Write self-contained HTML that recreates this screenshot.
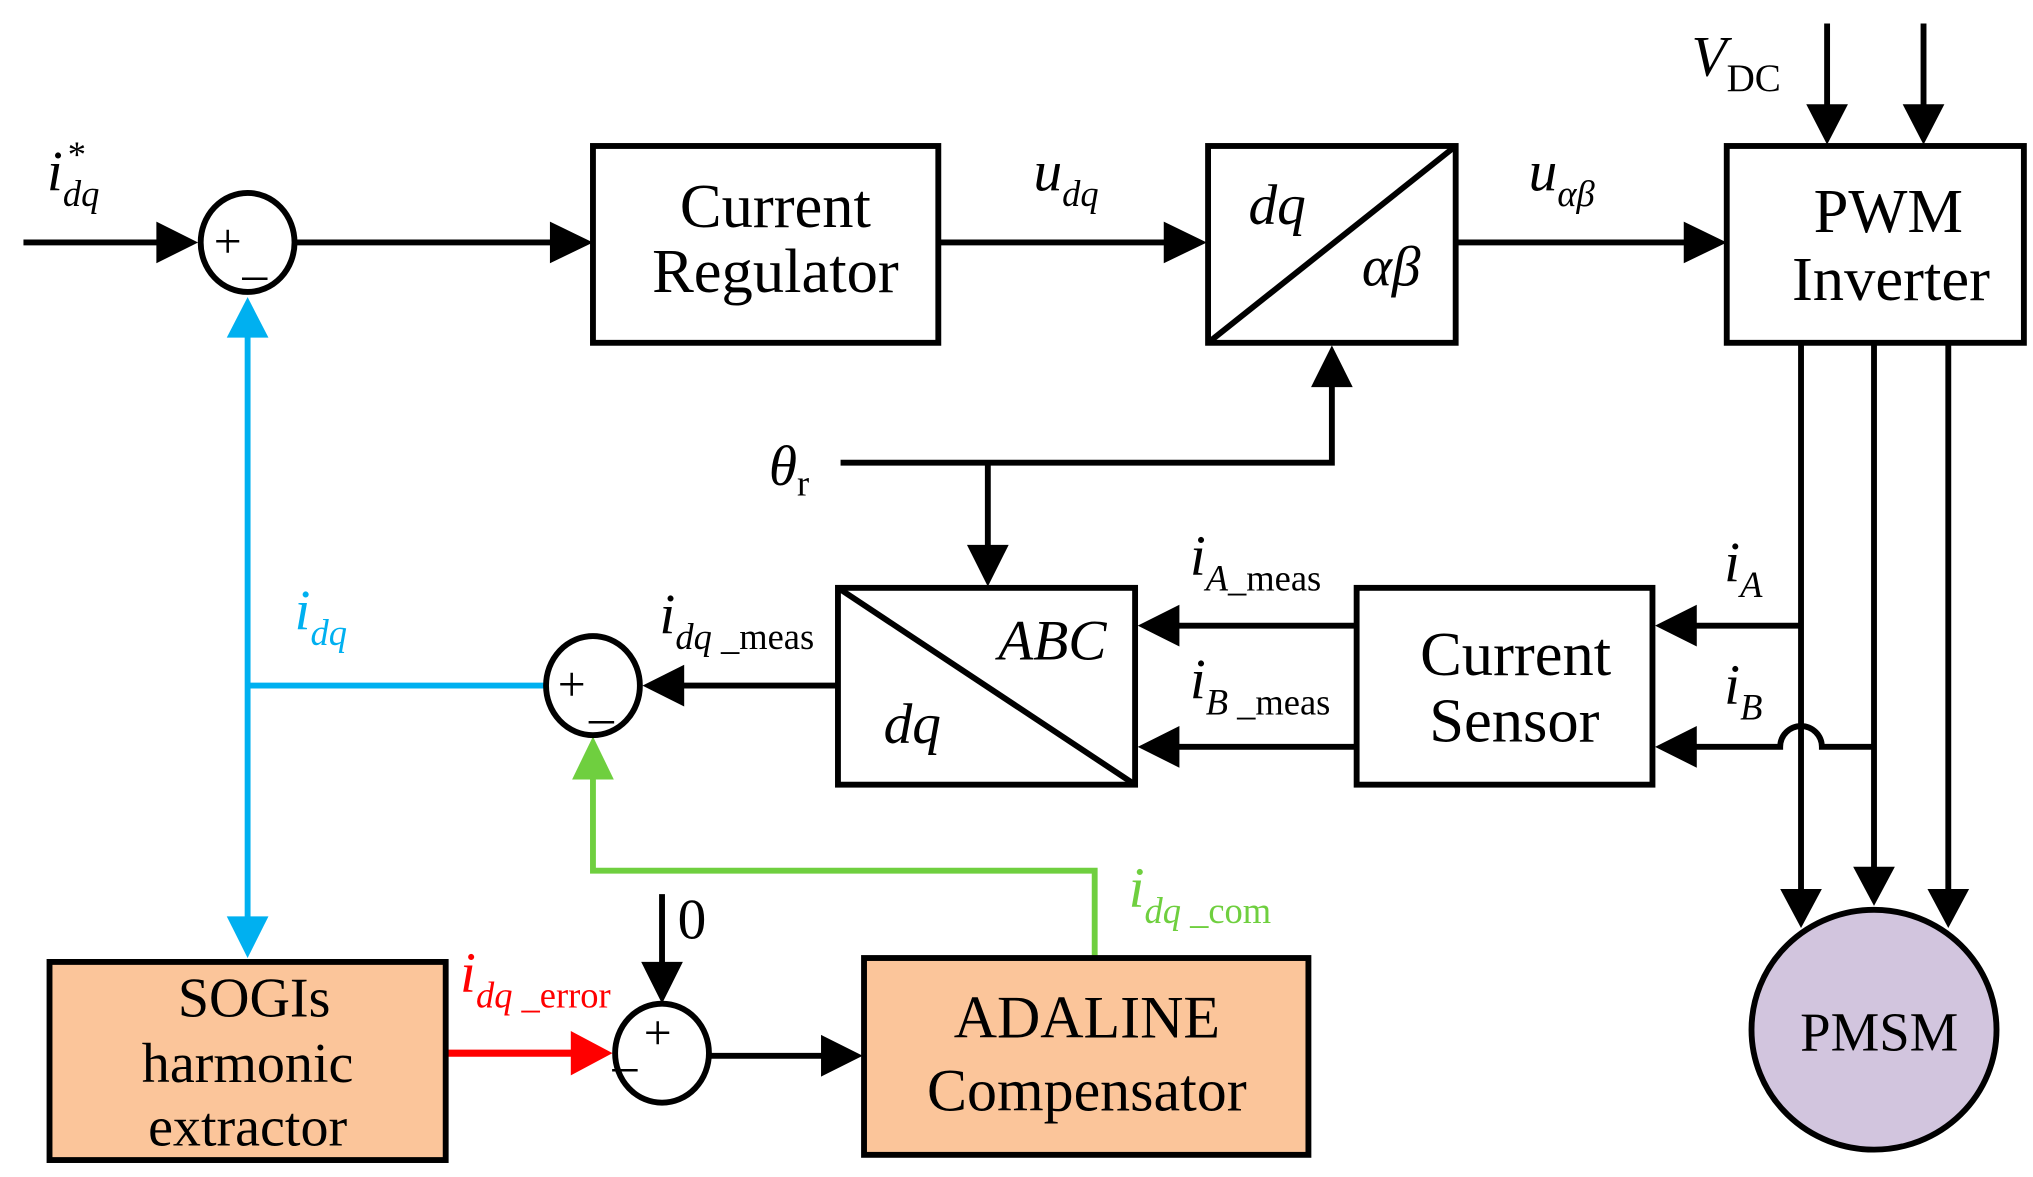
<!DOCTYPE html>
<html><head><meta charset="utf-8"><style>
html,body{margin:0;padding:0;background:#fff;}
svg{display:block;}
text{font-family:"Liberation Serif",serif;}
.i{font-style:italic;}
</style></head><body>
<svg width="2033" height="1177" viewBox="0 0 1560 903" preserveAspectRatio="none" xmlns="http://www.w3.org/2000/svg">
<g stroke="#000" stroke-width="4.5" fill="none">
<line x1="18" y1="186" x2="125" y2="186"/>
<path d="M120,170 L152,186 L120,202z" fill="#000" stroke="none"/>
<ellipse cx="190" cy="186" rx="36" ry="38" fill="#fff"/>
<line x1="226" y1="186" x2="425" y2="186"/>
<path d="M422,170 L455,186 L422,202z" fill="#000" stroke="none"/>
<rect x="455" y="112" width="265" height="151" fill="#fff"/>
<line x1="720" y1="186" x2="895" y2="186"/>
<path d="M893,170 L926,186 L893,202z" fill="#000" stroke="none"/>
<rect x="927" y="112" width="190" height="151" fill="#fff"/>
<line x1="927" y1="263" x2="1117" y2="112"/>
<line x1="1117" y1="186" x2="1295" y2="186"/>
<path d="M1292,170 L1325,186 L1292,202z" fill="#000" stroke="none"/>
<rect x="1325" y="112" width="228" height="151" fill="#fff"/>
<line x1="1402" y1="18" x2="1402" y2="85"/>
<path d="M1386,80 L1402,111 L1418,80z" fill="#000" stroke="none"/>
<line x1="1476" y1="18" x2="1476" y2="85"/>
<path d="M1460,80 L1476,111 L1492,80z" fill="#000" stroke="none"/>
<polyline points="645,355 1022,355 1022,295"/>
<path d="M1006,297 L1022,265 L1038,297z" fill="#000" stroke="none"/>
<line x1="758" y1="355" x2="758" y2="420"/>
<path d="M742,418 L758,450 L774,418z" fill="#000" stroke="none"/>
<rect x="643" y="451" width="228" height="151" fill="#fff"/>
<line x1="643" y1="451" x2="871" y2="602"/>
<rect x="1041" y="451" width="227" height="151" fill="#fff"/>
<line x1="1041" y1="480" x2="900" y2="480"/>
<path d="M905,464 L873,480 L905,496z" fill="#000" stroke="none"/>
<line x1="1041" y1="573" x2="900" y2="573"/>
<path d="M905,557 L873,573 L905,589z" fill="#000" stroke="none"/>
<line x1="1382" y1="263" x2="1382" y2="685"/>
<path d="M1366,682 L1382,712 L1398,682z" fill="#000" stroke="none"/>
<line x1="1438" y1="263" x2="1438" y2="668"/>
<path d="M1422,665 L1438,695 L1454,665z" fill="#000" stroke="none"/>
<line x1="1495" y1="263" x2="1495" y2="685"/>
<path d="M1479,682 L1495,712 L1511,682z" fill="#000" stroke="none"/>
<line x1="1382" y1="480" x2="1298" y2="480"/>
<path d="M1302,464 L1270,480 L1302,496z" fill="#000" stroke="none"/>
<path d="M1438,573 L1398,573 A16,16 0 0 0 1366,573 L1298,573"/>
<path d="M1302,557 L1270,573 L1302,589z" fill="#000" stroke="none"/>
<ellipse cx="1438" cy="790" rx="94" ry="92" fill="#d2c5de"/>
<line x1="643" y1="526" x2="522" y2="526"/>
<path d="M525,510 L493,526 L525,542z" fill="#000" stroke="none"/>
<line x1="508" y1="686" x2="508" y2="742"/>
<path d="M492,738 L508,770 L524,738z" fill="#000" stroke="none"/>
<line x1="545" y1="810" x2="632" y2="810"/>
<path d="M630,794 L662,810 L630,826z" fill="#000" stroke="none"/>
</g>
<g stroke="#00b0f0" stroke-width="4.5" fill="none">
<line x1="190" y1="255" x2="190" y2="707"/>
<line x1="190" y1="526" x2="418" y2="526"/>
</g>
<path d="M174,259 L190,228 L206,259z" fill="#00b0f0"/>
<path d="M174,703 L190,735 L206,703z" fill="#00b0f0"/>
<polyline points="840,735 840,668 455,668 455,595" stroke="#6fcf3f" stroke-width="4.5" fill="none"/>
<path d="M439,598 L455,565 L471,598z" fill="#6fcf3f"/>
<line x1="342" y1="808" x2="442" y2="808" stroke="#ff0000" stroke-width="5.5"/>
<path d="M438,791 L470,808 L438,825z" fill="#ff0000"/>
<g stroke="#000" stroke-width="4.5">
<ellipse cx="455" cy="526" rx="36" ry="38" fill="#fff"/>
<ellipse cx="508" cy="808" rx="36" ry="38" fill="#fff"/>
<rect x="38" y="738" width="304" height="152" fill="#fbc59a"/>
<rect x="663" y="735" width="341" height="151" fill="#fbc59a"/>
</g>
<g fill="#000" font-size="48" text-anchor="middle">
<text x="595" y="174">Current</text>
<text x="595" y="224">Regulator</text>
<text x="1449" y="178">PWM</text>
<text x="1451" y="230">Inverter</text>
<text x="1163" y="518">Current</text>
<text x="1162" y="569">Sensor</text>
<text x="1442" y="806" font-size="42">PMSM</text>
<text x="195" y="780" font-size="43">SOGIs</text>
<text x="190" y="830" font-size="43">harmonic</text>
<text x="190" y="879" font-size="43">extractor</text>
<text x="834" y="796" font-size="46">ADALINE</text>
<text x="834" y="852" font-size="46">Compensator</text>
</g>
<g fill="#000" font-size="44">
<text x="958" y="172" class="i">dq</text>
<text x="1045" y="219" class="i">αβ</text>
<text x="766" y="506" class="i">ABC</text>
<text x="678" y="570" class="i">dq</text>
<text x="164" y="198" font-size="38">+</text>
<text x="186" y="210" font-size="38">_</text>
<text x="428" y="538" font-size="38">+</text>
<text x="452" y="550" font-size="38">_</text>
<text x="494" y="805" font-size="38">+</text>
<text x="470" y="817" font-size="38">_</text>
<text x="520" y="720">0</text>
<text x="590" y="372" class="i">θ<tspan font-style="normal" font-size="28" dy="8">r</tspan></text>
<text x="1298" y="58" class="i">V<tspan font-style="normal" font-size="30" dy="12">DC</tspan></text>
<text x="36" y="146" class="i">i<tspan font-size="28" dy="12">dq</tspan></text>
<text x="52" y="128" font-size="28">*</text>
<text x="793" y="146" class="i">u<tspan font-size="28" dy="12">dq</tspan></text>
<text x="1173" y="146" class="i">u<tspan font-size="28" dy="12">αβ</tspan></text>
<text x="1323" y="446" class="i">i<tspan font-size="28" dy="12">A</tspan></text>
<text x="1323" y="540" class="i">i<tspan font-size="28" dy="12">B</tspan></text>
<text x="913" y="441" class="i">i<tspan font-size="28" dy="12">A</tspan><tspan font-style="normal" font-size="28">_meas</tspan></text>
<text x="913" y="536" class="i">i<tspan font-size="28" dy="12">B</tspan><tspan font-style="normal" font-size="28"> _meas</tspan></text>
<text x="506" y="486" class="i">i<tspan font-size="28" dy="12">dq</tspan><tspan font-style="normal" font-size="28"> _meas</tspan></text>
</g>
<text x="226" y="483" fill="#00b0f0" font-size="44" class="i">i<tspan font-size="28" dy="12">dq</tspan></text>
<text x="866" y="696" fill="#6fcf3f" font-size="44" class="i">i<tspan font-size="28" dy="12">dq</tspan><tspan font-style="normal" font-size="28"> _com</tspan></text>
<text x="353" y="761" fill="#ff0000" font-size="44" class="i">i<tspan font-size="28" dy="12">dq</tspan><tspan font-style="normal" font-size="28"> _error</tspan></text>
</svg>
</body></html>
